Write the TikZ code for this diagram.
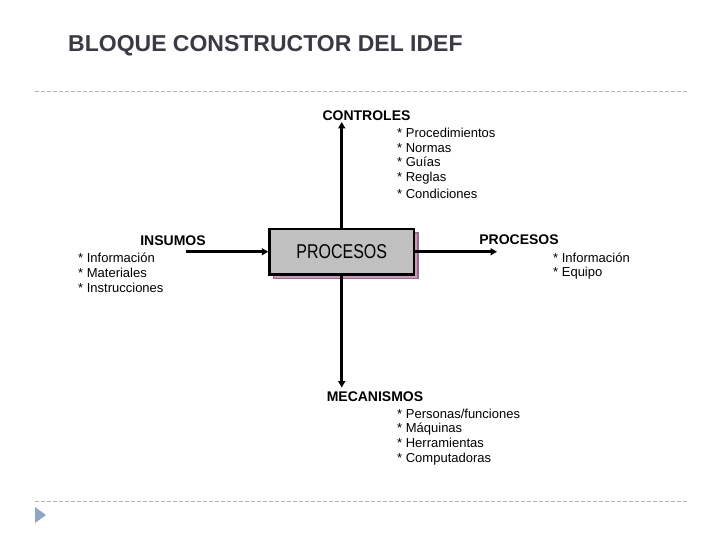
\documentclass[tikz,border=0pt]{standalone}
\usepackage{fontspec}
\setmainfont{Liberation Sans}
\usetikzlibrary{arrows.meta}
\definecolor{titlecol}{HTML}{3A3A44}
\definecolor{dashcol}{HTML}{B4B4B4}
\definecolor{tricol}{HTML}{8EA6C4}
\definecolor{boxfill}{HTML}{C0C0C0}
\definecolor{shadowfill}{HTML}{C89CB8}
\definecolor{shadowline}{HTML}{9A6A8A}
\begin{document}
\begin{tikzpicture}[x=1pt,y=-1pt,
  lbl/.style={font=\fontsize{14}{16}\selectfont\bfseries, inner sep=0pt, anchor=base},
  itm/.style={font=\fontsize{13}{15}\selectfont, inner sep=0pt, anchor=base west},
  arr/.style={line width=2.8pt, -{Triangle[length=6.5pt,width=7pt]}},
  dashline/.style={dashcol, line width=0.8pt, dash pattern=on 4pt off 2pt},
  procbox/.style={draw=black, line width=2.5pt, fill=boxfill, minimum width=144.5pt, minimum height=45.5pt, inner sep=0pt},
  shadowbox/.style={draw=shadowline, line width=1.5pt, fill=shadowfill, minimum width=144.5pt, minimum height=45.5pt, inner sep=0pt}
]
\useasboundingbox (0,0) rectangle (720,540);

% title
\node[font=\fontsize{23}{26}\selectfont\bfseries, text=titlecol, inner sep=0pt, anchor=base west] (title) at (68,52) {BLOQUE CONSTRUCTOR DEL IDEF};

% separators
\draw[dashline] (35,91) -- (687,91);
\draw[dashline] (35,501) -- (687,501);
\fill[tricol] (35,507) -- (46,515) -- (35,523) -- cycle;

% box with shadow
\node[shadowbox] (procshadow) at (345.5,255.5) {};
\node[procbox] (proc) at (341.75,251.75) {\scalebox{0.8}[1]{\fontsize{20}{24}\selectfont PROCESOS}};

% connector end points
\coordinate (inS) at (186,251.75);
\coordinate (outE) at (497,251.75);
\coordinate (ctlT) at (341.75,122);
\coordinate (mecB) at (341.75,387.5);

\draw[arr] (inS) -- (proc.west);
\draw[arr] (proc.east) -- (outE);
\draw[arr] (proc.north) -- (ctlT);
\draw[arr] (proc.south) -- (mecB);

% labels
\node[lbl] (ctl) at (366.5,120.7) {CONTROLES};
\node[lbl] (ins) at (173,245) {INSUMOS};
\node[lbl] (out) at (519,244) {PROCESOS};
\node[lbl] (mec) at (375,401) {MECANISMOS};

% controls list
\node[itm] (c1) at (397,137.5) {* Procedimientos};
\node[itm] (c2) at (397,153) {* Normas};
\node[itm] (c3) at (397,166.5) {* Guías};
\node[itm] (c4) at (397,182) {* Reglas};
\node[itm] (c5) at (397,199) {* Condiciones};

% inputs list
\node[itm] (i1) at (78,262.5) {* Información};
\node[itm] (i2) at (78,277) {* Materiales};
\node[itm] (i3) at (78,292) {* Instrucciones};

% outputs list
\node[itm] (o1) at (553,262) {* Información};
\node[itm] (o2) at (553,276.5) {* Equipo};

% mechanisms list
\node[itm] (m1) at (397,418) {* Personas/funciones};
\node[itm] (m2) at (397,432.5) {* Máquinas};
\node[itm] (m3) at (397,447) {* Herramientas};
\node[itm] (m4) at (397,462) {* Computadoras};
\end{tikzpicture}
\end{document}
